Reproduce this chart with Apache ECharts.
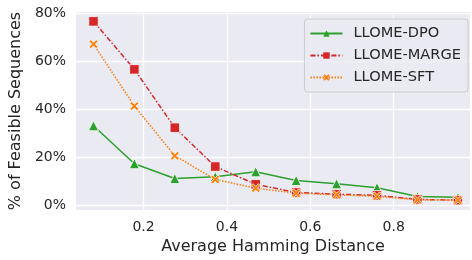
<!DOCTYPE html>
<html>
<head>
<meta charset="utf-8">
<script src="https://cdn.jsdelivr.net/npm/echarts@6/dist/echarts.min.js"></script>
<style>
  html, body { margin: 0; padding: 0; background: #fff; }
  #chart { width: 472px; height: 260px; }
</style>
</head>
<body>
<div id="chart"></div>
<script>
const hammingDist = [0.08, 0.178, 0.275, 0.372, 0.469, 0.566, 0.663, 0.76, 0.857, 0.954];
const dpoFeasible = [33.0, 17.2, 11.0, 11.8, 13.8, 10.2, 8.8, 7.2, 3.5, 3.2];
const margeFeasible = [76.5, 56.5, 32.2, 16.0, 8.6, 5.2, 4.5, 4.0, 2.3, 2.0];
const sftFeasible = [67.0, 41.2, 20.5, 10.6, 7.0, 4.9, 4.2, 3.6, 2.1, 2.0];
const xTicks = [0.2, 0.4, 0.6, 0.8];
const yTicks = [0, 20, 40, 60, 80];

const TEXT = "#262626";
const FONT = "DejaVu Sans";
const X_MARK = "path://M-1,-0.6L-0.6,-1L0,-0.4L0.6,-1L1,-0.6L0.4,0L1,0.6L0.6,1L0,0.4L-0.6,1L-1,0.6L-0.4,0Z";

const pairs = (ys) => hammingDist.map((x, i) => [x, ys[i]]);

function lineSeries(name, data, color, symbol, size, dash) {
  return {
    name,
    type: "line",
    data: pairs(data),
    symbol,
    symbolSize: size,
    showSymbol: true,
    lineStyle: { color, width: 1.5, type: dash },
    itemStyle: { color, borderColor: "#fff", borderWidth: 0.8 },
    z: 3,
  };
}

const chart = echarts.init(document.getElementById("chart"));
chart.setOption({
  animation: false,
  textStyle: { fontFamily: FONT },
  grid: { left: 72, right: 2, top: 12, bottom: 50, show: true, backgroundColor: "#eaeaf2", borderWidth: 0 },
  legend: {
    orient: "vertical",
    right: 4,
    top: 19,
    padding: [7, 7, 7, 5],
    itemGap: 7,
    itemWidth: 32,
    itemHeight: 8,
    backgroundColor: "rgba(234,234,242,0.85)",
    borderColor: "#cccccc",
    borderWidth: 1,
    borderRadius: 3,
    itemStyle: { borderWidth: 0 },
    textStyle: { color: TEXT, fontSize: 14.6, fontFamily: FONT, padding: [0, 0, 0, 6] },
    data: ["LLOME-DPO", "LLOME-MARGE", "LLOME-SFT"],
  },
  xAxis: {
    type: "value",
    min: 0.038,
    max: 0.983,
    name: "Average Hamming Distance",
    nameLocation: "middle",
    nameGap: 28,
    nameTextStyle: { color: TEXT, fontSize: 16, fontFamily: FONT },
    axisLine: { show: false },
    axisTick: { show: false, customValues: xTicks },
    axisLabel: { customValues: xTicks, color: TEXT, fontSize: 14, margin: 10, formatter: (v) => v.toFixed(1) },
    splitLine: { show: true, lineStyle: { color: "#ffffff", width: 1.3 } },
  },
  yAxis: {
    type: "value",
    min: -2.1,
    max: 80.4,
    name: "% of Feasible Sequences",
    nameLocation: "middle",
    nameGap: 47,
    nameTextStyle: { color: TEXT, fontSize: 16, fontFamily: FONT },
    axisLine: { show: false },
    axisTick: { show: false, customValues: yTicks },
    axisLabel: { customValues: yTicks, color: TEXT, fontSize: 14, margin: 10, formatter: (v) => v + "%" },
    splitLine: { show: true, lineStyle: { color: "#ffffff", width: 1.3 } },
  },
  series: [
    lineSeries("LLOME-DPO", dpoFeasible, "#2ca02c", "triangle", 10, "solid"),
    lineSeries("LLOME-MARGE", margeFeasible, "#d62728", "rect", 9.5, [5, 2, 1.5, 2]),
    lineSeries("LLOME-SFT", sftFeasible, "#ff7f0e", X_MARK, 9, [1.5, 1.5]),
  ],
});
</script>
</body>
</html>
